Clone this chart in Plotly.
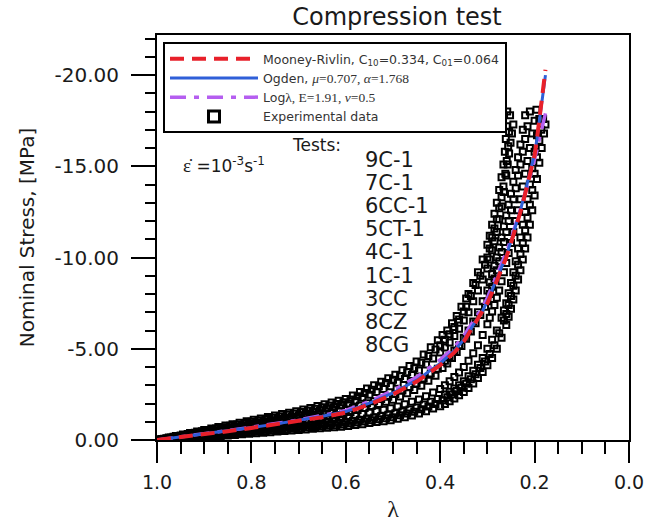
import plotly.graph_objects as go

# ---------------- data ----------------
TEST_NAMES = ["9C-1", "7C-1", "6CC-1", "5CT-1", "4C-1", "1C-1", "3CC", "8CZ", "8CG"]

# stretch-ratio sampling of the tests (three interleaved sampling grids)
LAM_GRID_A = [1.000, 0.985, 0.970, 0.955, 0.940, 0.925, 0.910, 0.895, 0.880, 0.865, 0.850, 0.835, 0.820, 0.805,
              0.790, 0.775, 0.760, 0.745, 0.730, 0.715, 0.700, 0.685, 0.670, 0.655, 0.640, 0.625, 0.610, 0.595,
              0.580, 0.565, 0.550, 0.535, 0.520, 0.505, 0.490, 0.475, 0.460, 0.445, 0.430, 0.415, 0.400]
LAM_GRID_B = [0.995, 0.980, 0.965, 0.950, 0.935, 0.920, 0.905, 0.890, 0.875, 0.860, 0.845, 0.830, 0.815, 0.800,
              0.785, 0.770, 0.755, 0.740, 0.725, 0.710, 0.695, 0.680, 0.665, 0.650, 0.635, 0.620, 0.605, 0.590,
              0.575, 0.560, 0.545, 0.530, 0.515, 0.500, 0.485, 0.470, 0.455, 0.440, 0.425, 0.410]
LAM_GRID_C = [0.990, 0.975, 0.960, 0.945, 0.930, 0.915, 0.900, 0.885, 0.870, 0.855, 0.840, 0.825, 0.810, 0.795,
              0.780, 0.765, 0.750, 0.735, 0.720, 0.705, 0.690, 0.675, 0.660, 0.645, 0.630, 0.615, 0.600, 0.585,
              0.570, 0.555, 0.540, 0.525, 0.510, 0.495, 0.480, 0.465, 0.450, 0.435, 0.420, 0.405]

# --- lower tests ---
SIG_L1_LOW = [0, -0.02, -0.05, -0.07, -0.09, -0.11, -0.14, -0.16, -0.19, -0.22, -0.25, -0.28, -0.31, -0.34,
              -0.37, -0.40, -0.43, -0.46, -0.49, -0.52, -0.55, -0.58, -0.61, -0.64, -0.67, -0.70, -0.73, -0.77,
              -0.82, -0.87, -0.93, -0.98, -1.03, -1.08, -1.16, -1.25, -1.34, -1.45, -1.58, -1.72, -1.85]
LAM_L1_TAIL = [0.39, 0.38, 0.37, 0.36, 0.35, 0.34, 0.33, 0.32, 0.31, 0.30, 0.29, 0.28, 0.27, 0.26, 0.255, 0.25, 0.245,
               0.24, 0.235, 0.23, 0.225, 0.22, 0.215, 0.21, 0.205, 0.20, 0.195, 0.19, 0.185, 0.18, 0.177]
SIG_L1_TAIL = [-1.98, -2.12, -2.27, -2.45, -2.63, -2.85, -3.1, -3.4, -3.73, -4.1, -4.5, -5.0, -5.6, -6.3, -6.75, -7.2, -7.7,
               -8.2, -8.8, -9.3, -9.9, -10.5, -11.1, -11.8, -12.6, -13.4, -14.3, -15.2, -16.0, -16.8, -17.3]

SIG_L2_LOW = [-0.01, -0.04, -0.06, -0.09, -0.12, -0.14, -0.17, -0.20, -0.24, -0.28, -0.31, -0.35, -0.38, -0.42,
              -0.45, -0.48, -0.52, -0.55, -0.58, -0.61, -0.64, -0.68, -0.71, -0.75, -0.78, -0.81, -0.85, -0.90,
              -0.96, -1.02, -1.08, -1.14, -1.19, -1.25, -1.35, -1.45, -1.55, -1.68, -1.83, -1.97]
LAM_L2_TAIL = [0.395, 0.385, 0.375, 0.365, 0.355, 0.345, 0.335, 0.325, 0.315, 0.305, 0.295, 0.285, 0.275, 0.265, 0.26,
               0.255, 0.25, 0.245, 0.24, 0.235, 0.23, 0.225, 0.22, 0.215, 0.21, 0.205, 0.20, 0.195, 0.19, 0.186, 0.182]
SIG_L2_TAIL = [-2.18, -2.34, -2.5, -2.68, -2.86, -3.08, -3.33, -3.6, -3.95, -4.3, -4.72, -5.2, -5.85, -6.55, -6.9,
               -7.4, -7.9, -8.45, -9.0, -9.6, -10.2, -10.8, -11.5, -12.2, -12.9, -13.7, -14.6, -15.5, -16.4, -17.0, -17.6]

SIG_L3_LOW = [-0.02, -0.06, -0.09, -0.12, -0.15, -0.19, -0.22, -0.26, -0.30, -0.35, -0.39, -0.43, -0.47, -0.51,
              -0.54, -0.58, -0.61, -0.64, -0.68, -0.71, -0.75, -0.79, -0.82, -0.86, -0.90, -0.94, -0.98, -1.05,
              -1.11, -1.18, -1.24, -1.31, -1.38, -1.46, -1.56, -1.67, -1.78, -1.94, -2.09, -2.25]
LAM_L3_TAIL = [0.39, 0.38, 0.37, 0.36, 0.35, 0.34, 0.33, 0.32, 0.31, 0.30, 0.29, 0.28, 0.27, 0.265, 0.26, 0.255, 0.25,
               0.245, 0.24, 0.235, 0.23, 0.225, 0.22, 0.215, 0.21, 0.205, 0.20, 0.195, 0.19]
SIG_L3_TAIL = [-2.5, -2.65, -2.82, -3.0, -3.22, -3.5, -3.8, -4.12, -4.5, -5.0, -5.5, -6.0, -6.7, -7.1, -7.5, -8.05, -8.6,
               -9.2, -9.8, -10.5, -11.1, -11.8, -12.5, -13.2, -14.0, -14.9, -15.8, -16.7, -17.6]

# --- middle tests ---
SIG_M1_LOW = [0, -0.04, -0.08, -0.13, -0.17, -0.21, -0.25, -0.30, -0.34, -0.39, -0.44, -0.49, -0.54, -0.58,
              -0.63, -0.68, -0.73, -0.78, -0.82, -0.87, -0.92, -0.97, -1.02, -1.07, -1.12, -1.17, -1.22, -1.28,
              -1.35, -1.42, -1.5, -1.58, -1.66, -1.74, -1.83, -1.96, -2.1, -2.22, -2.4, -2.6, -2.8]
LAM_M1_TAIL = [0.39, 0.38, 0.37, 0.36, 0.35, 0.34, 0.33, 0.32, 0.31, 0.30, 0.295, 0.29, 0.285, 0.28, 0.275, 0.27,
               0.265, 0.26, 0.255, 0.25, 0.245, 0.24, 0.235, 0.23, 0.225, 0.22, 0.215, 0.21, 0.205, 0.20, 0.196]
SIG_M1_TAIL = [-3.0, -3.22, -3.45, -3.7, -4.0, -4.35, -4.75, -5.2, -5.75, -6.35, -6.7, -7.05, -7.4, -7.8, -8.2, -8.7,
               -9.2, -9.7, -10.25, -10.8, -11.4, -12.0, -12.6, -13.2, -13.9, -14.6, -15.3, -16.0, -16.8, -17.5, -18.1]

SIG_M2_LOW = [-0.02, -0.07, -0.12, -0.17, -0.21, -0.26, -0.31, -0.37, -0.42, -0.48, -0.53, -0.59, -0.64, -0.70,
              -0.75, -0.81, -0.86, -0.91, -0.96, -1.02, -1.07, -1.13, -1.19, -1.25, -1.31, -1.37, -1.43, -1.53,
              -1.64, -1.75, -1.86, -1.98, -2.09, -2.2, -2.38, -2.56, -2.74, -2.98, -3.25, -3.52]
LAM_M2_TAIL = [0.395, 0.385, 0.375, 0.365, 0.355, 0.345, 0.335, 0.325, 0.315, 0.305, 0.30, 0.295, 0.29, 0.285, 0.28,
               0.275, 0.27, 0.265, 0.26, 0.255, 0.25, 0.245, 0.24, 0.235, 0.23, 0.225, 0.22, 0.215, 0.21]
SIG_M2_TAIL = [-3.95, -4.2, -4.5, -4.82, -5.15, -5.55, -5.95, -6.4, -6.85, -7.3, -7.6, -8.0, -8.4, -8.85, -9.3,
               -9.8, -10.3, -10.85, -11.4, -12.0, -12.6, -13.2, -13.8, -14.5, -15.1, -15.8, -16.5, -17.2, -18.0]

SIG_M3_LOW = [-0.04, -0.10, -0.15, -0.21, -0.27, -0.32, -0.38, -0.44, -0.51, -0.57, -0.63, -0.69, -0.76, -0.82,
              -0.88, -0.94, -1.0, -1.06, -1.12, -1.18, -1.25, -1.31, -1.38, -1.45, -1.52, -1.58, -1.65, -1.77,
              -1.89, -2.01, -2.13, -2.25, -2.37, -2.52, -2.71, -2.91, -3.1, -3.37, -3.64, -3.91]
LAM_M3_TAIL = [0.39, 0.38, 0.37, 0.36, 0.35, 0.34, 0.33, 0.32, 0.31, 0.30, 0.295, 0.29, 0.285, 0.28, 0.275, 0.27,
               0.265, 0.26, 0.255, 0.25, 0.245, 0.24, 0.235, 0.23, 0.225, 0.22]
SIG_M3_TAIL = [-4.35, -4.6, -4.9, -5.2, -5.6, -6.0, -6.5, -7.0, -7.6, -8.2, -8.65, -9.1, -9.55, -10.0, -10.55, -11.1,
               -11.7, -12.3, -12.9, -13.5, -14.15, -14.8, -15.5, -16.2, -17.0, -17.8]

# --- upper tests ---
SIG_U1_LOW = [0, -0.07, -0.14, -0.20, -0.27, -0.34, -0.41, -0.47, -0.54, -0.61, -0.68, -0.74, -0.81, -0.88,
              -0.95, -1.01, -1.08, -1.15, -1.22, -1.28, -1.35, -1.44, -1.53, -1.62, -1.71, -1.80, -1.89, -2.0,
              -2.16, -2.32, -2.48, -2.63, -2.79, -2.95, -3.14, -3.35, -3.56, -3.81, -4.14, -4.47, -4.8]
LAM_U1_TAIL = [0.39, 0.38, 0.37, 0.36, 0.35, 0.34, 0.33, 0.32, 0.31, 0.30, 0.295, 0.29, 0.285, 0.28, 0.275, 0.27,
               0.265, 0.26, 0.257, 0.254, 0.251, 0.248, 0.245]
SIG_U1_TAIL = [-5.07, -5.35, -5.7, -6.1, -6.55, -7.0, -7.6, -8.2, -8.8, -9.4, -9.9, -10.4, -10.9, -11.4, -12.1, -12.8,
               -13.6, -14.5, -15.1, -15.7, -16.3, -16.8, -17.3]

SIG_U2_LOW = [-0.03, -0.10, -0.18, -0.25, -0.33, -0.40, -0.48, -0.55, -0.63, -0.70, -0.78, -0.85, -0.93, -1.0,
              -1.08, -1.15, -1.23, -1.30, -1.38, -1.45, -1.53, -1.62, -1.71, -1.80, -1.89, -1.98, -2.07, -2.22,
              -2.4, -2.58, -2.76, -2.94, -3.12, -3.3, -3.51, -3.72, -3.93, -4.24, -4.6, -4.96]
LAM_U2_TAIL = [0.40, 0.39, 0.38, 0.37, 0.36, 0.35, 0.345, 0.335, 0.325, 0.315, 0.305, 0.30, 0.295, 0.29, 0.285, 0.28,
               0.275, 0.27, 0.266, 0.262, 0.259, 0.256, 0.254, 0.252]
SIG_U2_TAIL = [-5.2, -5.5, -5.8, -6.2, -6.6, -7.05, -7.3, -7.9, -8.5, -9.0, -9.6, -10.0, -10.5, -11.1, -11.6, -12.1,
               -12.7, -13.3, -13.9, -14.6, -15.3, -16.1, -16.9, -17.8]

SIG_U3_LOW = [-0.06, -0.14, -0.22, -0.30, -0.39, -0.47, -0.55, -0.63, -0.71, -0.79, -0.87, -0.95, -1.03, -1.11,
              -1.18, -1.26, -1.34, -1.42, -1.50, -1.57, -1.67, -1.76, -1.86, -1.96, -2.06, -2.15, -2.25, -2.44,
              -2.63, -2.82, -3.0, -3.19, -3.38, -3.58, -3.82, -4.06, -4.3, -4.69, -5.08, -5.47]
LAM_U3_TAIL = [0.395, 0.385, 0.375, 0.365, 0.355, 0.345, 0.34, 0.33, 0.32, 0.31, 0.30, 0.295, 0.29, 0.285, 0.28,
               0.275, 0.27, 0.266, 0.263, 0.261, 0.259, 0.258]
SIG_U3_TAIL = [-5.75, -6.0, -6.4, -6.8, -7.3, -7.75, -8.0, -8.6, -9.2, -9.9, -10.7, -11.2, -11.8, -12.4, -13.0,
               -13.7, -14.4, -15.1, -15.8, -16.5, -17.2, -18.0]

TEST_LAMS = [LAM_GRID_A + LAM_L1_TAIL, LAM_GRID_B + LAM_L2_TAIL, LAM_GRID_C + LAM_L3_TAIL,
             LAM_GRID_A + LAM_M1_TAIL, LAM_GRID_B + LAM_M2_TAIL, LAM_GRID_C + LAM_M3_TAIL,
             LAM_GRID_A + LAM_U1_TAIL, LAM_GRID_B + LAM_U2_TAIL, LAM_GRID_C + LAM_U3_TAIL]
TEST_SIGS = [SIG_L1_LOW + SIG_L1_TAIL, SIG_L2_LOW + SIG_L2_TAIL, SIG_L3_LOW + SIG_L3_TAIL,
             SIG_M1_LOW + SIG_M1_TAIL, SIG_M2_LOW + SIG_M2_TAIL, SIG_M3_LOW + SIG_M3_TAIL,
             SIG_U1_LOW + SIG_U1_TAIL, SIG_U2_LOW + SIG_U2_TAIL, SIG_U3_LOW + SIG_U3_TAIL]

# fitted models
LAM_FIT = [1.0, 0.95, 0.9, 0.85, 0.8, 0.75, 0.7, 0.65, 0.6, 0.55, 0.5, 0.45, 0.4, 0.37, 0.35, 0.33, 0.31, 0.3, 0.29, 0.28,
           0.27, 0.26, 0.25, 0.24, 0.23, 0.22, 0.21, 0.2, 0.195, 0.19, 0.185, 0.18, 0.177]
SIG_MOONEY = [0, -0.15, -0.32, -0.48, -0.66, -0.84, -1.03, -1.25, -1.5, -1.95, -2.5, -3.2, -4.1, -4.8, -5.4, -6.2, -7.0, -7.5, -8.1, -8.7,
              -9.3, -10.0, -10.8, -11.6, -12.5, -13.5, -14.5, -15.6, -16.5, -17.6, -18.6, -19.7, -20.3]
SIG_OGDEN = [0, -0.16, -0.33, -0.5, -0.68, -0.87, -1.07, -1.3, -1.56, -2.02, -2.58, -3.28, -4.2, -4.9, -5.5, -6.3, -7.1, -7.6, -8.2, -8.8,
             -9.4, -10.1, -10.9, -11.7, -12.6, -13.6, -14.6, -15.7, -16.5, -17.5, -18.5, -19.5, -20.0]
SIG_LOG = [0, -0.16, -0.34, -0.52, -0.7, -0.9, -1.1, -1.35, -1.62, -2.12, -2.72, -3.45, -4.4, -5.1, -5.7, -6.5, -7.3, -7.8, -8.4, -9.0,
           -9.6, -10.3, -11.0, -11.8, -12.6, -13.5, -14.4, -15.3, -15.9, -16.5, -17.1, -17.6, -17.9]

X_TICKS = [1.0, 0.8, 0.6, 0.4, 0.2, 0.0]
X_TICK_TEXT = ["1.0", "0.8", "0.6", "0.4", "0.2", "0.0"]
Y_TICKS = [0, -5, -10, -15, -20]
Y_TICK_TEXT = ["0.00", "-5.00", "-10.00", "-15.00", "-20.00"]

# ---------------- styling ----------------
SANS = "DejaVu Sans"
SERIF = "Liberation Serif"
RED = "#e8202a"
BLUE = "#2f5fd8"
PURPLE = "#b55ef0"
INK = "#1a1a1a"
SERIF_SPAN = "<span style='font-family:Liberation Serif;font-size:13.5px'>"

fig = go.Figure()

for i, (lam, sig) in enumerate(zip(TEST_LAMS, TEST_SIGS)):
    fig.add_trace(go.Scatter(
        x=lam, y=sig, mode="markers", name=TEST_NAMES[i],
        legendgroup="exp", showlegend=False,
        marker=dict(symbol="square-open", size=6, color="black", line=dict(width=2.0, color="black")),
    ))

# legend-only entry for experimental data
fig.add_trace(go.Scatter(
    x=[None], y=[None], mode="markers", name="Experimental data",
    legendgroup="exp", legendrank=4,
    marker=dict(symbol="square-open", size=11, color="black", line=dict(width=3, color="black")),
))

fig.add_trace(go.Scatter(
    x=LAM_FIT, y=SIG_LOG, mode="lines", legendrank=3,
    name="Log" + SERIF_SPAN + "λ, E=1.91, <i>ν</i>=0.5</span>",
    line=dict(color=PURPLE, width=3.5, dash="16px,8px,5px,8px"),
))
fig.add_trace(go.Scatter(
    x=LAM_FIT, y=SIG_OGDEN, mode="lines", legendrank=2,
    name="Ogden, " + SERIF_SPAN + "<i>μ</i>=0.707, <i>α</i>=1.768</span>",
    line=dict(color=BLUE, width=3),
))
fig.add_trace(go.Scatter(
    x=LAM_FIT, y=SIG_MOONEY, mode="lines", legendrank=1,
    name="Mooney-Rivlin, C<sub>10</sub>=0.334, C<sub>01</sub>=0.064",
    line=dict(color=RED, width=4, dash="14px,8px"),
))

# text annotations
fig.add_annotation(xref="paper", yref="paper", x=0.337, y=(440 - 145) / 405, xanchor="center", yanchor="middle",
                   text="Tests:", showarrow=False, font=dict(family=SANS, size=17, color=INK))
fig.add_annotation(xref="paper", yref="paper", x=(224 - 157) / 472, y=(440 - 165) / 405, xanchor="center", yanchor="middle",
                   text="<span style='font-family:Liberation Serif;font-size:19px'>ε̇</span> =10<sup>-3</sup>s<sup>-1</sup>",
                   showarrow=False, font=dict(family=SANS, size=17, color=INK))
for i, name in enumerate(TEST_NAMES):
    fig.add_annotation(xref="paper", yref="paper", x=(363 - 157) / 472, y=(440 - 160 - 23.1 * i) / 405,
                       xanchor="left", yanchor="middle", text=name, showarrow=False,
                       font=dict(family=SANS, size=21, color=INK))

axis_common = dict(showline=True, linecolor="black", linewidth=2, mirror=True,
                   ticks="outside", tickcolor="black", tickwidth=2,
                   showgrid=False, zeroline=False, automargin=False)

fig.update_xaxes(range=[1.0, 0.0], tickvals=X_TICKS, ticktext=X_TICK_TEXT, ticklen=21,
                 ticklabelstandoff=3,
                 tickfont=dict(family=SANS, size=19, color=INK),
                 minor=dict(dtick=0.05, tick0=0, ticklen=12, tickwidth=2, tickcolor="black", ticks="outside"),
                 title=dict(text="λ", font=dict(family=SERIF, size=24, color=INK), standoff=8),
                 **axis_common)
fig.update_yaxes(range=[0, -22.2], tickvals=Y_TICKS, ticktext=Y_TICK_TEXT, ticklen=24,
                 ticklabelstandoff=8,
                 tickfont=dict(family=SANS, size=20, color=INK),
                 minor=dict(dtick=1, tick0=0, ticklen=10, tickwidth=2, tickcolor="black", ticks="outside"),
                 title=dict(text="Nominal Stress, [MPa]", font=dict(family=SANS, size=20, color=INK), standoff=15),
                 **axis_common)

fig.update_layout(
    width=650, height=523,
    margin=dict(l=157, r=21, t=35, b=83),
    paper_bgcolor="white", plot_bgcolor="white",
    title=dict(text="Compression test", x=397 / 650, xanchor="center", y=1 - 17 / 523, yanchor="middle",
               font=dict(family=SANS, size=24, color=INK)),
    legend=dict(x=(163 - 157) / 472, y=(440 - 42) / 405, xanchor="left", yanchor="top",
                bgcolor="white", bordercolor="black", borderwidth=2,
                font=dict(family=SANS, size=12.5, color="#333"),
                itemwidth=88, tracegroupgap=0, traceorder="normal"),
)

fig.write_html("out.html")
